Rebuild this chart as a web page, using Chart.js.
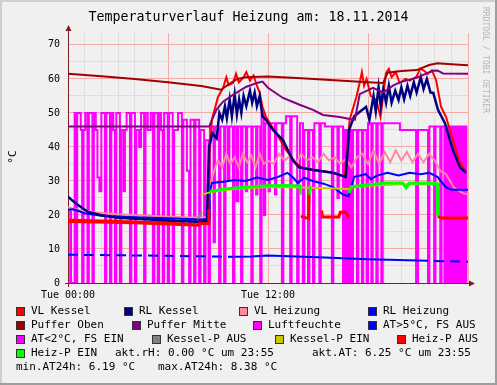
<!DOCTYPE html>
<html>
<head>
<meta charset="utf-8">
<script src="https://cdn.jsdelivr.net/npm/chart.js@4/dist/chart.umd.min.js"></script>
<style>
  body { margin: 0; background: #fff; }
  #wrap { position: relative; width: 497px; height: 385px; background: #f0f0f0; overflow: hidden;
          font-family: 'DejaVu Sans Mono', monospace; color: #000; }
  #wrap canvas { position: absolute; left: 0; top: 0; }
  .t { position: absolute; white-space: pre; font-size: 11px; line-height: 14px; }
  .sw { position: absolute; width: 9px; height: 9px; box-sizing: border-box; border: 1px solid #333; }
  .b { position: absolute; }
</style>
</head>
<body>
<div id="wrap">
  <canvas id="chart" width="497" height="385"></canvas>
  <div class="t" id="title" style="left:0;width:497px;text-align:center;top:8px;font-size:13.3px;line-height:17px;"></div>
  <div class="t" id="unit" style="left:6px;top:150px;transform:rotate(-90deg);"></div>
  <div class="t" id="credit" style="left:481px;top:7px;writing-mode:vertical-rl;font-size:8px;line-height:9px;color:#b4b4b4;"></div>
  <div id="legend"></div>
  <div class="b" style="left:0;top:0;width:497px;height:2px;background:#cfcfcf;"></div>
  <div class="b" style="left:0;top:0;width:2px;height:385px;background:#cfcfcf;"></div>
  <div class="b" style="left:0;top:383px;width:497px;height:2px;background:#9e9e9e;"></div>
  <div class="b" style="left:495px;top:0;width:2px;height:385px;background:#9e9e9e;"></div>
</div>
<script>
// Zeit in Minuten seit 00:00, Werte in °C bzw. %
const titleText = "Temperaturverlauf Heizung am: 18.11.2014";
const unitText = "°C";
const xTickLabels = { 0: "Tue 00:00", 720: "Tue 12:00" };

const vlKessel = [[0,18.6],[120,18.4],[240,18.1],[360,17.8],[470,17.2],[472,17.6],[505,17.8],[510,38],[518,48],[540,54.7],[558,57.3],[570,60.5],[578,58.2],[594,58.8],[605,61.5],[615,59],[630,60.2],[642,62],[655,59.5],[668,61],[680,58],[690,56],[700,51.8],[713,48.8],[750,44],[786,39],[822,35.2],[846,33.8],[894,33.2],[954,32.4],[996,31.2],[1014,48],[1038,54.7],[1050,58.8],[1058,62],[1066,58],[1075,60],[1090,55],[1110,53.8],[1125,48.8],[1145,61.7],[1155,63],[1165,60.5],[1180,62],[1194,58.8],[1215,60],[1230,59.5],[1254,60.6],[1268,63],[1278,62.6],[1295,61.5],[1310,62.5],[1325,59.7],[1343,51.8],[1361,48.8],[1386,42],[1408,36],[1433,32.6]];
const rlKessel = [[0,25.4],[12,24.5],[36,22.9],[72,20.9],[120,19.9],[180,19.2],[360,18.4],[470,18.0],[500,18.2],[508,40],[520,44],[535,42.5],[545,50],[555,48],[565,52],[572,48.5],[582,54],[590,49],[600,55.5],[608,49.5],[616,54],[624,50],[632,55],[642,52],[655,56.5],[663,53],[672,56],[680,52],[690,55],[700,49],[713,48],[738,45],[774,42],[810,36],[832,34],[882,33.2],[954,32.4],[1000,31.2],[1012,45],[1030,49],[1045,50],[1073,51.8],[1085,48],[1100,55],[1108,50.5],[1118,57.6],[1126,52],[1135,57],[1145,53],[1155,58],[1165,53],[1178,56.5],[1190,53.8],[1200,57.5],[1210,54],[1222,58],[1232,55],[1245,59],[1255,56],[1270,60.6],[1280,57],[1292,60],[1305,56],[1315,55.9],[1332,50.9],[1357,47],[1386,39],[1411,34],[1433,32.4]];
const vlHeizung = [[0,22.3],[60,21],[180,20.2],[360,19.5],[480,19.2],[505,19.5],[515,30],[530,34],[540,36],[555,34],[570,38],[585,35],[600,37],[615,34],[630,38],[645,35.5],[660,37.5],[675,34],[690,38],[705,35],[720,36],[740,35],[760,38],[780,36],[800,37.5],[820,35],[840,38],[860,36],[880,37],[900,35.5],[920,38],[940,36],[960,37],[980,35],[1000,36.5],[1020,34],[1040,37],[1060,38],[1080,35],[1100,39],[1120,35],[1140,38.5],[1160,35.5],[1180,39],[1200,36],[1220,38.5],[1240,35.5],[1260,38],[1280,35.5],[1300,38],[1320,36],[1340,33],[1361,32],[1390,28],[1420,26.5],[1440,26]];
const rlHeizung = [[0,21.5],[20,21.7],[60,20.5],[120,19.8],[240,19.3],[360,19.0],[480,18.7],[508,18.8],[510,26.5],[518,29.4],[560,29.8],[600,30.3],[640,30.0],[680,31],[720,30.3],[750,31],[790,32.4],[810,31],[828,29.4],[850,31],[880,30],[920,29.2],[954,28.2],[990,26],[1010,25.5],[1030,31.2],[1073,32],[1090,30.5],[1110,31.5],[1150,32.4],[1190,31.6],[1230,32.4],[1270,32.0],[1300,32.4],[1330,31.2],[1360,28.2],[1380,27.4],[1440,27.4]];
const pufferOben = [[0,61.5],[120,60.8],[240,60.0],[360,59.0],[480,57.9],[551,56.8],[580,58.5],[610,60.0],[640,60.5],[720,60.7],[840,60.2],[960,59.6],[1080,59.0],[1135,58.8],[1150,61.8],[1200,62.3],[1255,62.6],[1300,64.1],[1330,64.6],[1380,64.3],[1440,64.0]];
const pufferMitte = [[0,46],[508,46],[534,50.9],[558,53.3],[594,55.3],[642,57.7],[684,58.9],[700,59.2],[720,57.4],[774,54.4],[834,52.4],[882,50.9],[918,49.4],[978,48.8],[1014,48.2],[1033,48.0],[1050,55.5],[1098,57.4],[1134,56.0],[1170,58.0],[1194,59.0],[1254,60.3],[1314,62.4],[1330,62.5],[1350,61.6],[1440,61.5]];
const luftfeuchte = [[0,0],[8,21],[11,0],[24,50],[29,0],[33,50],[46,45],[51,0],[56,45],[62,50],[70,0],[75,50],[88,0],[93,50],[100,45],[106,31],[113,27],[120,50],[133,0],[138,50],[151,0],[156,50],[163,45],[169,0],[174,50],[187,0],[192,45],[200,27],[205,45],[211,50],[223,0],[228,50],[241,0],[246,45],[256,40],[263,50],[274,0],[279,50],[287,45],[298,50],[306,0],[311,50],[323,0],[328,50],[335,45],[341,0],[346,50],[359,0],[364,50],[377,0],[382,45],[396,50],[410,0],[415,48],[428,33],[436,0],[441,48],[454,0],[459,48],[472,0],[477,45],[490,0],[495,42],[506,0],[511,46],[524,12],[529,46],[544,0],[549,46],[562,0],[567,46],[576,30],[581,46],[594,0],[599,46],[607,24],[613,46],[623,0],[628,46],[640,27],[645,46],[660,0],[665,46],[677,26],[682,46],[692,0],[697,50],[705,20],[710,47],[722,27],[727,47],[745,26],[750,47],[770,0],[775,47],[785,49],[800,0],[805,49],[825,0],[830,30],[835,47],[846,0],[851,45],[864,0],[869,45],[882,0],[887,47],[905,0],[910,47],[925,46],[950,0],[955,46],[970,25],[975,46],[990,0],[994,45],[998,0],[1002,45],[1006,0],[1010,45],[1014,0],[1018,45],[1022,0],[1026,45],[1040,0],[1045,45],[1058,0],[1063,45],[1075,0],[1080,47],[1092,0],[1097,47],[1110,0],[1115,47],[1128,0],[1133,47],[1195,45],[1253,0],[1260,45],[1296,0],[1301,46],[1318,0],[1323,46],[1340,0],[1345,46],[1355,0],[1359,46],[1365,0],[1369,46],[1375,0],[1379,46],[1385,0],[1389,46],[1395,0],[1399,46],[1405,0],[1409,46],[1415,0],[1419,46],[1425,0],[1429,46],[1434,0],[1436,0]];
const atAus = [[0,8.3],[360,8.0],[600,7.7],[660,7.8],[720,8.1],[900,7.6],[1080,7.0],[1260,6.6],[1440,6.25]];
const atEin = [];
const kesselPAus = [[466,18.8],[476,20.4],[482,20.8]];
const kesselPEin = [[478,25.9],[522,26.9],[600,27.6],[720,28.2],[840,28.1],[960,27.8],[1010,27.6],[1020,28.0],[1080,28.6],[1200,29.0],[1331,29.0]];
const heizPAus = [[0,18.1],[240,17.7],[470,17.0],[472,17.4],[505,17.5],[507,21.3],[512,21.3],[513,null],[838,19.6],[866,19.0],[868,27],[869,null],[913,21.3],[916,19.4],[975,19.4],[980,20.8],[1000,20.8],[1010,19.4],[1013,19.4],[1014,null],[1331,19.6],[1345,19.1],[1440,19.1]];
const heizPEin = [[512,26.9],[560,27.6],[600,27.9],[660,28.3],[720,28.6],[780,28.7],[835,28.5],[837,26.0],[838,null],[870,26],[873,28.3],[876,28.3],[877,null],[1012,26.5],[1020,28.3],[1073,28.8],[1145,29.4],[1205,29.4],[1217,28.0],[1228,29.3],[1300,29.4],[1329,29.2],[1331,19.6]];

const legendRow4 = ["akt.rH: 0.00 °C um 23:55", "akt.AT: 6.25 °C um 23:55"];
const legendRow5 = ["min.AT24h: 6.19 °C", "max.AT24h: 8.38 °C"];

function pts(arr) {
  return arr.map(p => ({ x: p[0], y: p[1] }));
}

// label, data, color, width, order (higher = further back)
const series = [
  ["VL Kessel", vlKessel, "#ff0000", 2, 16],
  ["RL Kessel", rlKessel, "#000080", 2.5, 15],
  ["VL Heizung", vlHeizung, "#ff88a0", 2, 18],
  ["RL Heizung", rlHeizung, "#0000ff", 2, 17],
  ["Puffer Oben", pufferOben, "#a00000", 2, 14],
  ["Puffer Mitte", pufferMitte, "#800080", 2, 13],
  ["Luftfeuchte", luftfeuchte, "#ff00ff", 2, 20],
  ["AT>5°C, FS AUS", atAus, "#0000ff", 2, 12],
  ["AT<2°C, FS EIN", atEin, "#ff00ff", 2, 11],
  ["Kessel-P AUS", kesselPAus, "#808080", 2, 10],
  ["Kessel-P EIN", kesselPEin, "#c8c800", 2, 9],
  ["Heiz-P AUS", heizPAus, "#ff0000", 3, 8],
  ["Heiz-P EIN", heizPEin, "#00ff00", 3, 7]
];

const datasets = series.map(s => {
  const d = {
    label: s[0],
    data: pts(s[1]),
    borderColor: s[2],
    backgroundColor: s[2],
    borderWidth: s[3],
    order: s[4],
    pointRadius: 0,
    tension: 0,
    spanGaps: false
  };
  if (s[0] === "Luftfeuchte") d.stepped = true;
  if (s[0] === "AT>5°C, FS AUS") {
    d.segment = { borderDash: c => (c.p0.parsed.x < 580 || c.p0.parsed.x > 1090) ? [10, 6] : undefined };
  }
  return d;
});

const rrdAxes = {
  id: "rrdAxes",
  beforeDatasetsDraw(chart) {
    const { ctx, chartArea: a } = chart;
    const x0 = a.left + 0.5, y0 = a.bottom + 0.5;
    ctx.save();
    ctx.strokeStyle = "#7f1f1f";
    ctx.fillStyle = "#7f1f1f";
    ctx.lineWidth = 1;
    ctx.beginPath();
    ctx.moveTo(x0, a.bottom + 4);
    ctx.lineTo(x0, a.top - 4);
    ctx.moveTo(a.left - 3, y0);
    ctx.lineTo(a.right + 3, y0);
    ctx.stroke();
    ctx.beginPath();
    ctx.moveTo(x0, a.top - 8);
    ctx.lineTo(x0 - 3, a.top - 2);
    ctx.lineTo(x0 + 3, a.top - 2);
    ctx.closePath();
    ctx.fill();
    ctx.beginPath();
    ctx.moveTo(a.right + 7, y0);
    ctx.lineTo(a.right + 1, y0 - 3);
    ctx.lineTo(a.right + 1, y0 + 3);
    ctx.closePath();
    ctx.fill();
    ctx.restore();
  }
};

const tickFont = { family: "'DejaVu Sans Mono', monospace", size: 10 };

new Chart(document.getElementById("chart"), {
  type: "line",
  data: { datasets: datasets },
  options: {
    responsive: false,
    animation: false,
    events: [],
    layout: { padding: { left: 8, top: 33, right: 29, bottom: 82 } },
    plugins: { legend: { display: false }, tooltip: { enabled: false }, title: { display: false } },
    scales: {
      x: {
        type: "linear",
        min: 0,
        max: 1440,
        afterFit(s) { s.height = 20; },
        border: { display: false },
        grid: {
          drawTicks: false,
          color: c => (c.tick.value % 360 === 0 ? "#f2aaaa" : "#dedede")
        },
        ticks: {
          stepSize: 60,
          autoSkip: false,
          maxRotation: 0,
          padding: 6,
          color: "#000",
          font: tickFont,
          callback: v => xTickLabels[v] || ""
        }
      },
      y: {
        min: 0,
        max: 73.5,
        afterFit(s) { s.width = 60; },
        border: { display: false },
        grid: {
          drawTicks: false,
          color: c => (c.tick.value % 10 === 0 ? "#f2aaaa" : "#dedede")
        },
        ticks: {
          stepSize: 5,
          includeBounds: false,
          padding: 8,
          color: "#000",
          font: tickFont,
          callback: v => (v % 10 === 0 ? String(v) : "")
        }
      }
    }
  },
  plugins: [rrdAxes]
});

document.getElementById("title").textContent = titleText;
document.getElementById("unit").textContent = unitText;
document.getElementById("credit").textContent = "RRDTOOL / TOBI OETIKER";

// Legende wie bei rrdtool: Zeile, Kaestchen-x
const legendLayout = [
  [0, 16], [0, 124], [0, 239], [0, 368],
  [1, 16], [1, 132], [1, 253], [1, 368],
  [2, 16], [2, 152], [2, 275], [2, 397],
  [3, 16]
];
const rowY = [311, 325, 339, 353, 367];
const legend = document.getElementById("legend");
series.forEach((s, i) => {
  const [row, sx] = legendLayout[i];
  const sw = document.createElement("div");
  sw.className = "sw";
  sw.style.left = sx + "px";
  sw.style.top = (rowY[row] - 4.5) + "px";
  sw.style.background = s[2];
  legend.appendChild(sw);
  const t = document.createElement("div");
  t.className = "t";
  t.style.left = (sx + 15) + "px";
  t.style.top = (rowY[row] - 7) + "px";
  t.textContent = s[0];
  legend.appendChild(t);
});
[[legendRow4[0], 115, 3], [legendRow4[1], 312, 3], [legendRow5[0], 16, 4], [legendRow5[1], 158, 4]].forEach(e => {
  const t = document.createElement("div");
  t.className = "t";
  t.style.left = e[1] + "px";
  t.style.top = (rowY[e[2]] - 7) + "px";
  t.textContent = e[0];
  legend.appendChild(t);
});
</script>
</body>
</html>
